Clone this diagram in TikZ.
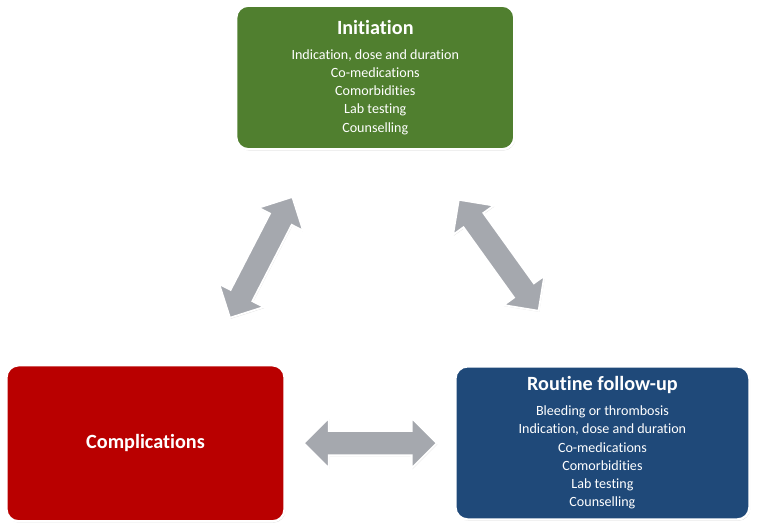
\documentclass[tikz,border=0pt]{standalone}
\usepackage{fontspec}
\setmainfont{Carlito}[Ligatures={NoCommon}]
\usepackage{tikz}
\usetikzlibrary{positioning, shapes.arrows, shadows, calc}
\definecolor{initgreen}{RGB}{80,127,47}
\definecolor{compred}{RGB}{185,0,0}
\definecolor{followblue}{RGB}{31,73,121}
\definecolor{arrowgrey}{RGB}{165,168,174}
\tikzstyle{stage} = [rectangle, rounded corners=0.32cm, draw=white, line width=1.8pt, text=white, align=center, font=\fontsize{10.6}{13.7}\selectfont, drop shadow={opacity=0.3, shadow xshift=0.6pt, shadow yshift=-1pt}]
\tikzstyle{initbox} = [stage, minimum width=7.36cm, minimum height=3.8cm, fill=initgreen]
\tikzstyle{compbox} = [stage, minimum width=7.36cm, minimum height=4.13cm, fill=compred]
\tikzstyle{followbox} = [stage, minimum width=7.78cm, minimum height=4.05cm, fill=followblue]
\tikzstyle{link} = [double arrow, draw=white, line width=1.4pt, fill=arrowgrey, inner xsep=0pt, inner ysep=0.3cm, double arrow head extend=0.34cm, drop shadow={opacity=0.25, shadow xshift=0.5pt, shadow yshift=-0.8pt}]
\newcommand{\stagetitle}[1]{{\fontsize{15.2}{18}\selectfont\bfseries #1}}
\def\gap{5pt}

\begin{document}
\begin{tikzpicture}
\useasboundingbox (0,0) rectangle (20.03,14.02);

\node (init) [initbox] at (9.93,11.97) {\stagetitle{Initiation}\\[\gap]
Indication, dose and duration\\ Co-medications\\ Comorbidities\\ Lab testing\\ Counselling};
\node (comp) [compbox] at (3.85,2.29) {\stagetitle{Complications}};
\node (follow) [followbox] at (15.94,2.30) {\stagetitle{Routine follow-up}\\[\gap]
Bleeding or thrombosis\\ Indication, dose and duration\\ Co-medications\\ Comorbidities\\ Lab testing\\ Counselling};

% two-way links between the stages
\node (linkleft) [link, minimum height=3.6cm, rotate=62.7] at ($(init)!0.5!(comp) + (0.02,0.08)$) {};
\node (linkright) [link, minimum height=3.62cm, rotate=-54.3] at ($(init)!0.5!(follow) + (0.26,0.13)$) {};
\node (linkbottom) [link, minimum height=3.52cm] at ($(comp)!0.5!(follow) + (-0.1,0)$) {};

\end{tikzpicture}
\end{document}
